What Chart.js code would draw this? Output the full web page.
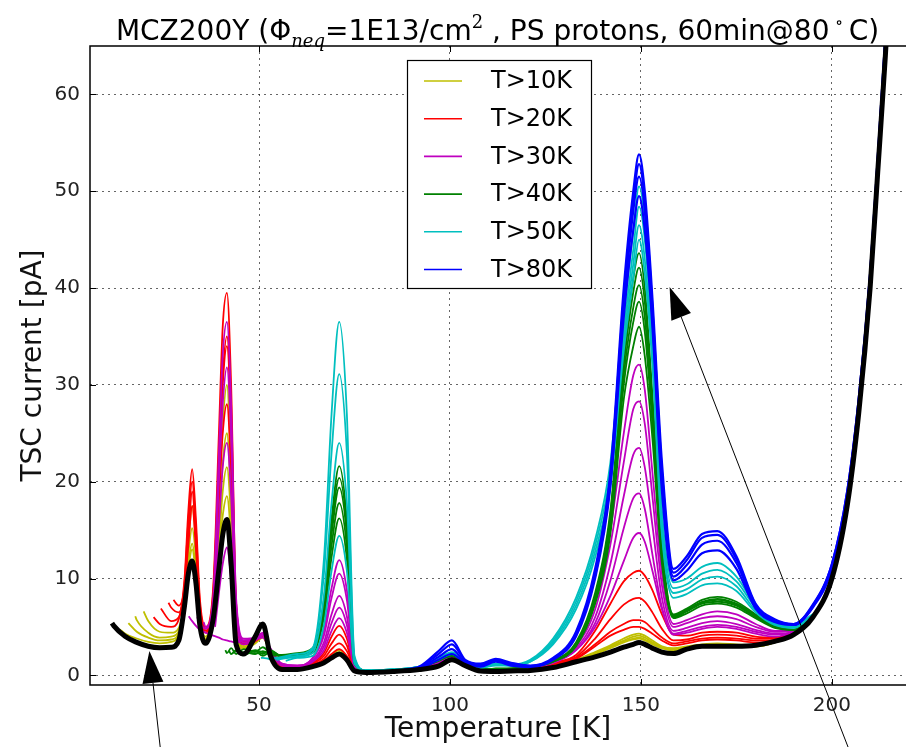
<!DOCTYPE html>
<html>
<head>
<meta charset="utf-8">
<script src="https://cdn.jsdelivr.net/npm/chart.js@4.4.1/dist/chart.umd.min.js"></script>
<style>
  body { margin: 0; background: white; overflow: hidden; }
  canvas { display: block; }
</style>
</head>
<body>
<canvas id="tscChart" width="906" height="747"></canvas>
<script>
  // temperature grid [K], every curve below is read on these points
  var TEMPS = [12, 15, 18, 21, 24, 27, 29, 30.5, 31.5, 32.5,
               33.5, 34.5, 36, 38, 39.5, 40.5, 41.6, 42.7, 44, 46,
               49, 51, 53, 56, 60, 64, 67, 69, 71, 73,
               75, 78, 85, 92, 97, 100.5, 104, 108, 112, 116,
               121, 127, 133, 138, 142, 145.5, 148, 149.5, 151, 153,
               155.5, 158.5, 162, 166, 170, 175, 180, 185, 190, 195,
               200, 204, 207, 210, 212, 214, 216];

  // each curve = its first point [T, I] + values on TEMPS starting at the first grid point above T
  var BLACK_START = [11.5, 5.4];
  var BLACK = [5.1, 4.0, 3.4, 3.0, 2.85, 2.9, 3.6, 7.2, 10.5, 11.8,
               9.5, 5.2, 3.3, 5.8, 11.0, 14.5, 16.1, 11.5, 3.2, 2.2,
               4.0, 5.3, 2.0, 0.6, 0.6, 0.9, 1.3, 1.8, 2.2, 1.6,
               0.45, 0.3, 0.4, 0.6, 0.95, 1.6, 1.0, 0.45, 0.4, 0.45,
               0.5, 0.8, 1.4, 1.9, 2.4, 2.9, 3.2, 3.4, 3.2, 2.8,
               2.4, 2.25, 2.7, 3.0, 3.0, 3.0, 3.1, 3.5, 4.2, 6.0,
               10, 17.5, 27, 40, 52, 64, 78];

  var YELLOW_STARTS = [[13.6, 4.75], [15.8, 5.4], [17.6, 6.1], [19.8, 6.6]];
  var YELLOW = [
    [4.3, 3.8, 3.45, 3.3, 3.45, 4.3, 8.0, 13.5, 17.5,
     13.5, 6.5, 4.0, 7.5, 18, 26, 30, 21, 5.0, 3.0,
     3.6, 4.2, 2.5, 1.0, 0.7, 1.0, 1.5, 2.1, 2.6, 1.9,
     0.6, 0.35, 0.45, 0.65, 1.1, 1.7, 1.1, 0.5, 0.5, 0.5,
     0.6, 0.95, 1.6, 2.4, 3.1, 3.8, 4.2, 4.3, 4.1, 3.6,
     3.0, 2.8, 3.0, 3.2, 3.3, 3.2, 3.1, 3.4, 4.3, 5.9],
    [4.5, 3.9, 3.6, 3.7, 4.4, 7.6, 12.5, 15.2,
     12.0, 6.0, 3.8, 7.0, 15.5, 22, 25, 18, 4.6, 2.9,
     3.5, 4.1, 2.4, 0.9, 0.65, 1.0, 1.5, 2.0, 2.4, 1.8,
     0.55, 0.35, 0.45, 0.6, 1.1, 1.65, 1.05, 0.5, 0.5, 0.5,
     0.6, 0.9, 1.5, 2.3, 3.0, 3.6, 4.0, 4.1, 3.9, 3.4,
     2.9, 2.7, 2.9, 3.1, 3.2, 3.1, 3.0, 3.4, 4.3, 5.9],
    [5.7, 4.4, 3.9, 4.0, 4.6, 7.4, 11.5, 13.6,
     10.8, 5.8, 3.7, 6.6, 13.5, 19, 21.5, 16, 4.4, 2.8,
     3.4, 4.0, 2.3, 0.9, 0.65, 0.95, 1.4, 1.9, 2.3, 1.7,
     0.55, 0.35, 0.45, 0.6, 1.05, 1.6, 1.0, 0.5, 0.5, 0.5,
     0.6, 0.9, 1.5, 2.2, 2.9, 3.5, 3.8, 3.9, 3.7, 3.3,
     2.8, 2.6, 2.9, 3.1, 3.2, 3.1, 3.0, 3.4, 4.3, 5.9],
    [5.6, 4.5, 4.4, 4.9, 7.5, 11.0, 13.0,
     10.2, 5.6, 3.6, 6.3, 12.5, 16.5, 18.5, 14, 4.2, 2.7,
     3.3, 3.9, 2.3, 0.9, 0.6, 0.95, 1.4, 1.8, 2.2, 1.6,
     0.5, 0.35, 0.45, 0.6, 1.05, 1.6, 1.0, 0.5, 0.5, 0.5,
     0.6, 0.9, 1.5, 2.2, 2.8, 3.4, 3.7, 3.8, 3.6, 3.2,
     2.8, 2.6, 2.9, 3.1, 3.2, 3.1, 3.0, 3.4, 4.3, 5.9]
  ];

  var RED_STARTS = [[22.4, 6.0], [24.3, 6.9], [26.3, 7.5], [27.6, 7.8]];
  var RED = [
    [5.3, 5.0, 5.8, 10.0, 17.0, 21.3,
     16.0, 8.0, 5.0, 9.0, 25, 36, 39.5, 30, 7.5, 3.5,
     3.8, 4.3, 2.6, 1.0, 0.8, 1.3, 2.3, 4.0, 5.1, 3.8,
     0.8, 0.35, 0.45, 0.7, 1.3, 1.8, 1.2, 0.5, 0.55, 0.6,
     0.8, 1.3, 2.1, 4.6, 7.4, 9.7, 10.6, 10.8, 10.3, 8.8,
     6.3, 4.2, 4.1, 4.4, 4.5, 4.4, 4.0, 3.9, 4.5, 5.9],
    [5.6, 6.0, 9.5, 16.0, 20.0,
     15.0, 7.5, 4.8, 8.5, 22, 31, 35, 27, 7.0, 3.4,
     3.7, 4.2, 2.5, 1.0, 0.8, 1.2, 2.0, 3.3, 4.2, 3.1,
     0.7, 0.35, 0.45, 0.7, 1.3, 1.8, 1.2, 0.5, 0.55, 0.6,
     0.75, 1.2, 1.9, 3.8, 5.8, 7.3, 7.9, 8.0, 7.6, 6.5,
     4.8, 3.6, 3.7, 4.1, 4.2, 4.1, 3.8, 3.8, 4.5, 5.9],
    [7.0, 6.5, 9.0, 14.5, 19.0,
     14.0, 7.0, 4.6, 8.0, 21, 30, 34, 26, 6.6, 3.3,
     3.6, 4.1, 2.4, 1.0, 0.7, 1.1, 1.7, 2.7, 3.3, 2.5,
     0.7, 0.35, 0.45, 0.65, 1.3, 1.7, 1.15, 0.5, 0.5, 0.55,
     0.7, 1.1, 1.8, 3.2, 4.5, 5.3, 5.7, 5.7, 5.5, 4.8,
     3.9, 3.3, 3.5, 3.8, 3.9, 3.8, 3.6, 3.6, 4.4, 5.9],
    [7.2, 9.0, 13.5, 17.5,
     13.0, 6.5, 4.4, 7.5, 18, 25, 28, 21, 6.0, 3.2,
     3.5, 4.0, 2.4, 0.9, 0.7, 1.0, 1.5, 2.2, 2.7, 2.0,
     0.6, 0.35, 0.45, 0.65, 1.2, 1.7, 1.1, 0.5, 0.5, 0.55,
     0.7, 1.1, 1.7, 3.0, 4.1, 4.7, 5.0, 5.0, 4.8, 4.3,
     3.6, 3.1, 3.3, 3.6, 3.7, 3.6, 3.4, 3.5, 4.4, 5.9]
  ];

  var MAGENTA_STARTS = [[31.6, 6.1], [33.8, 6.0], [35.5, 5.5], [37.0, 5.2], [38.5, 5.0]];
  var MAGENTA = [
    [5.6,
     5.1, 4.7, 4.4, 4.1, 3.9, 3.7, 3.6, 3.5, 3.4, 3.6,
     3.7, 3.9, 2.6, 1.2, 1.0, 1.4, 2.6, 4.6, 5.9, 4.4,
     0.9, 0.4, 0.45, 0.7, 1.3, 1.8, 1.2, 0.5, 0.55, 0.6,
     0.8, 1.3, 2.6, 5.0, 8.2, 11.8, 14.2, 14.7, 13.8, 10.8,
     6.8, 4.2, 4.4, 4.8, 5.0, 4.8, 4.3, 4.0, 4.5, 5.9],
    [5.4, 4.8, 8.0, 23, 33, 36.5, 28, 8.0, 3.8,
     3.9, 4.4, 2.8, 1.2, 1.0, 1.8, 4.6, 9.0, 11.9, 8.8,
     1.2, 0.4, 0.45, 0.7, 1.4, 1.9, 1.2, 0.5, 0.6, 0.65,
     0.9, 1.5, 3.2, 7.5, 15, 25, 31, 32.1, 29.5, 21,
     10.5, 5.3, 5.7, 6.3, 6.6, 6.3, 5.3, 4.6, 4.6, 5.9],
    [5.0, 7.5, 20, 28, 31.8, 24.5, 7.4, 3.6,
     3.8, 4.3, 2.7, 1.1, 1.0, 1.7, 4.1, 8.0, 10.5, 7.8,
     1.1, 0.4, 0.45, 0.7, 1.4, 1.9, 1.2, 0.5, 0.6, 0.65,
     0.85, 1.4, 3.0, 6.8, 13.5, 22, 27.5, 28.3, 26, 18.5,
     9.3, 5.0, 5.4, 5.9, 6.1, 5.8, 5.0, 4.5, 4.6, 5.9],
    [6.5, 15.5, 21.5, 24, 18.5, 6.2, 3.4,
     3.7, 4.2, 2.6, 1.1, 0.9, 1.5, 3.4, 6.3, 8.2, 6.1,
     1.0, 0.4, 0.45, 0.7, 1.3, 1.8, 1.2, 0.5, 0.55, 0.6,
     0.8, 1.3, 2.8, 6.0, 11.5, 18.5, 22.8, 23.5, 21.5, 15.5,
     8.0, 4.6, 4.9, 5.4, 5.6, 5.3, 4.7, 4.3, 4.5, 5.9],
    [8.5, 11.5, 13.2, 10.0, 4.5, 3.2,
     3.6, 4.1, 2.5, 1.0, 0.9, 1.4, 3.0, 5.4, 7.0, 5.2,
     0.9, 0.4, 0.45, 0.7, 1.3, 1.8, 1.2, 0.5, 0.55, 0.6,
     0.8, 1.3, 2.6, 5.4, 9.8, 15.2, 18.3, 18.8, 17.2, 12.5,
     7.0, 4.3, 4.6, 5.0, 5.2, 5.0, 4.5, 4.2, 4.5, 5.9]
  ];

  var GREEN_STARTS = [[41.2, 2.6], [42.2, 2.5], [43.2, 2.3], [44.6, 2.2], [45.6, 2.0]];
  var GREEN = [
    [2.3, 2.8, 2.2, 2.7,
     2.4, 2.9, 2.3, 2.1, 2.3, 2.8, 7.8, 16.2, 21.6, 16.0,
     1.5, 0.5, 0.5, 0.8, 1.6, 2.1, 1.3, 0.6, 0.7, 0.7,
     0.9, 1.5, 3.4, 8.5, 17, 33, 41, 43.6, 40, 29,
     13.5, 6.3, 6.9, 7.8, 8.1, 7.6, 6.3, 5.2, 4.7, 6.0],
    [2.2, 2.6, 2.3,
     2.6, 2.4, 2.5, 2.0, 2.2, 2.6, 7.4, 15.3, 20.4, 15.2,
     1.4, 0.5, 0.5, 0.8, 1.6, 2.1, 1.3, 0.6, 0.7, 0.7,
     0.9, 1.5, 3.3, 8.2, 16.5, 32, 39.6, 42.1, 38.6, 28,
     13.0, 6.2, 6.8, 7.6, 7.9, 7.4, 6.2, 5.1, 4.7, 6.0],
    [2.5, 2.1,
     2.5, 2.2, 2.6, 1.9, 2.1, 2.5, 7.0, 14.5, 19.4, 14.4,
     1.4, 0.5, 0.5, 0.8, 1.6, 2.0, 1.3, 0.6, 0.7, 0.7,
     0.9, 1.5, 3.2, 8.0, 16, 31, 38, 40.3, 37, 27,
     12.5, 6.1, 6.7, 7.5, 7.8, 7.3, 6.1, 5.0, 4.7, 6.0],
    [2.4,
     2.2, 2.5, 2.1, 2.0, 2.1, 2.4, 6.5, 13.4, 17.8, 13.2,
     1.3, 0.5, 0.5, 0.8, 1.5, 2.0, 1.2, 0.6, 0.65, 0.7,
     0.85, 1.4, 3.1, 7.7, 15.4, 30, 36.5, 38.6, 35.5, 26,
     12.2, 6.0, 6.6, 7.4, 7.6, 7.2, 6.0, 5.0, 4.7, 6.0],
    [2.2,
     2.5, 2.0, 2.4, 1.9, 2.0, 2.3, 6.0, 12.2, 16.2, 12.0,
     1.2, 0.5, 0.5, 0.8, 1.5, 2.0, 1.2, 0.6, 0.65, 0.7,
     0.85, 1.4, 3.0, 7.4, 14.6, 28.5, 34, 36.0, 33, 24.5,
     11.5, 5.9, 6.4, 7.2, 7.4, 7.0, 5.9, 4.9, 4.7, 6.0]
  ];

  var CYAN_STARTS = [[50.5, 1.8], [52.5, 1.7], [54.5, 1.6], [57.0, 1.5]];
  var CYAN = [
    [1.8, 1.7, 1.9, 2.2, 2.8, 12, 27, 36.5, 27,
     2.0, 0.5, 0.6, 0.9, 1.8, 2.4, 1.4, 0.9, 1.2, 1.1,
     1.6, 3.8, 8.0, 14, 22, 37, 46, 50.5, 47, 36,
     17, 9.6, 10.0, 11.2, 11.6, 10.2, 7.2, 5.5, 5.0, 6.3],
    [1.7, 1.8, 2.0, 2.6, 10.5, 23, 31.1, 23,
     1.8, 0.5, 0.6, 0.9, 1.7, 2.3, 1.3, 0.8, 1.1, 1.0,
     1.5, 3.6, 7.6, 13.4, 21, 35.5, 44, 48.4, 45, 34.5,
     16, 9.0, 9.4, 10.5, 10.9, 9.7, 7.0, 5.4, 5.0, 6.3],
    [1.7, 1.9, 2.3, 8.2, 17.8, 24.0, 17.8,
     1.5, 0.5, 0.6, 0.9, 1.7, 2.3, 1.3, 0.8, 1.1, 1.0,
     1.4, 3.4, 7.2, 12.8, 20, 34.5, 42.5, 46.5, 43, 33,
     15, 8.5, 8.9, 9.9, 10.2, 9.2, 6.7, 5.3, 4.9, 6.2],
    [1.8, 2.0, 5.2, 10.8, 14.4, 10.8,
     1.2, 0.5, 0.6, 0.9, 1.6, 2.2, 1.3, 0.8, 1.0, 1.0,
     1.4, 3.2, 6.8, 12.2, 19.5, 33.5, 41, 45.0, 41.5, 32,
     14.5, 8.0, 8.4, 9.3, 9.5, 8.7, 6.5, 5.2, 4.9, 6.2]
  ];

  var BLUE_STARTS = [[88, 0.6], [89, 0.5], [90, 0.5], [91, 0.5]];
  var BLUE = [
    [0.9, 2.5, 3.6, 1.6, 1.2, 1.7, 1.3,
     1.0, 1.8, 4.5, 11, 21, 40, 50, 53.8, 50, 39,
     22, 11.0, 12.3, 14.6, 14.9, 12.3, 7.4, 5.8, 5.3, 7.3,
     11.5, 19, 28.5, 41.5, 53.5, 66, 80],
    [0.8, 2.2, 3.2, 1.5, 1.1, 1.6, 1.2,
     0.95, 1.7, 4.3, 10.6, 20.5, 39, 49, 52.8, 49, 38,
     21, 10.6, 11.9, 14.2, 14.5, 12.0, 7.3, 5.7, 5.3, 7.2,
     11.5, 19, 28.5, 41.5, 53.5, 66, 80],
    [0.7, 1.9, 2.7, 1.3, 1.0, 1.5, 1.1,
     0.9, 1.7, 4.2, 10.3, 20, 38, 48, 51.5, 48, 37,
     20, 10.2, 11.4, 13.5, 13.9, 11.6, 7.1, 5.6, 5.2, 7.1,
     11.2, 18.7, 28.2, 41.2, 53.2, 65.5, 79.5],
    [0.6, 1.6, 2.2, 1.2, 0.9, 1.4, 1.0,
     0.85, 1.6, 4.0, 10, 19.5, 37, 46, 49.5, 46, 36,
     19, 9.8, 10.8, 12.6, 12.9, 11.0, 6.9, 5.5, 5.2, 7.0,
     11, 18.5, 28, 41, 53, 65, 79]
  ];

  var GROUP_LABELS = ["T>10K", "T>20K", "T>30K", "T>40K", "T>50K", "T>80K"];
  var GROUP_COLORS = ["#bfbf00", "#ff0000", "#bf00bf", "#008000", "#00bfbf", "#0000ff"];
  var X_TICKS = [50, 100, 150, 200];
  var Y_TICKS = [0, 10, 20, 30, 40, 50, 60];

  // annotation arrows, in data units: tip, and tail below the axis
  var ARROW_TIPS = [[21.3, 2.5], [157.5, 40.1]];
  var ARROW_TAILS = [[24.5, -8.7], [205.5, -8.7]];

  var FONT = "'DejaVu Sans', 'Bitstream Vera Sans', sans-serif";


  function curvePoints(start, vals)
  {
    var i0 = TEMPS.findIndex(function(t) { return t > start[0]; });
    var pts = [{x: start[0], y: start[1]}];
    for (var k = 0; k < vals.length; k++)
    {
      pts.push({x: TEMPS[i0 + k], y: vals[k]});
    }
    return pts;
  }

  var groups = [
    [YELLOW_STARTS, YELLOW],
    [RED_STARTS, RED],
    [MAGENTA_STARTS, MAGENTA],
    [GREEN_STARTS, GREEN],
    [CYAN_STARTS, CYAN],
    [BLUE_STARTS, BLUE]
  ];

  var datasets = [];
  groups.forEach(function(g, gi) {
    g[1].forEach(function(vals, ci) {
      datasets.push({
        label: GROUP_LABELS[gi],
        data: curvePoints(g[0][ci], vals),
        borderColor: GROUP_COLORS[gi],
        borderWidth: gi == 5 ? 2.2 : 1.8,
        order: 6 - gi
      });
    });
  });
  datasets.push({
    label: "all",
    data: curvePoints(BLACK_START, BLACK),
    borderColor: "#000",
    borderWidth: 5,
    order: 0
  });


  // frame, inner ticks, legend box, arrows and the title
  var overlayPlugin = {
    id: 'overlay',
    afterDatasetsDraw: function(chart)
    {
      var ctx = chart.ctx, area = chart.chartArea;
      var xs = chart.scales.x, ys = chart.scales.y;
      ctx.save();

      ctx.strokeStyle = "#000";
      ctx.lineWidth = 1.5;
      ctx.beginPath();
      ctx.moveTo(area.right + 2, area.top);
      ctx.lineTo(area.left, area.top);
      ctx.lineTo(area.left, area.bottom);
      ctx.lineTo(area.right + 2, area.bottom);
      ctx.stroke();

      ctx.lineWidth = 1;
      ctx.beginPath();
      Y_TICKS.forEach(function(v) {
        var py = Math.round(ys.getPixelForValue(v)) + 0.5;
        ctx.moveTo(area.left, py); ctx.lineTo(area.left + 6, py);
      });
      X_TICKS.forEach(function(v) {
        var px = Math.round(xs.getPixelForValue(v)) + 0.5;
        ctx.moveTo(px, area.bottom); ctx.lineTo(px, area.bottom - 6);
        ctx.moveTo(px, area.top); ctx.lineTo(px, area.top + 6);
      });
      ctx.stroke();

      // legend
      var lx = area.left + 317, ly = area.top + 14, lw = 184, lh = 228;
      ctx.fillStyle = "#fff";
      ctx.fillRect(lx, ly, lw, lh);
      ctx.strokeStyle = "#000";
      ctx.lineWidth = 1.2;
      ctx.strokeRect(lx + 0.5, ly + 0.5, lw, lh);
      ctx.font = "24px " + FONT;
      ctx.textBaseline = "middle";
      ctx.textAlign = "left";
      GROUP_LABELS.forEach(function(lab, i) {
        var ry = ly + 21 + i * 37.7;
        ctx.strokeStyle = GROUP_COLORS[i];
        ctx.lineWidth = 1.6;
        ctx.beginPath();
        ctx.moveTo(lx + 17, ry); ctx.lineTo(lx + 55, ry);
        ctx.stroke();
        ctx.fillStyle = "#000";
        ctx.fillText(lab, lx + 84, ry + 1);
      });

      // arrows
      ctx.strokeStyle = "#000";
      ctx.fillStyle = "#000";
      ARROW_TIPS.forEach(function(tip, i) {
        var tx = xs.getPixelForValue(tip[0]), ty = ys.getPixelForValue(tip[1]);
        var sx = xs.getPixelForValue(ARROW_TAILS[i][0]), sy = ys.getPixelForValue(ARROW_TAILS[i][1]);
        var dx = sx - tx, dy = sy - ty, len = Math.sqrt(dx * dx + dy * dy);
        var ux = dx / len, uy = dy / len;
        var bx = tx + ux * 32, by = ty + uy * 32;
        ctx.lineWidth = 1;
        ctx.beginPath();
        ctx.moveTo(sx, sy); ctx.lineTo(bx, by);
        ctx.stroke();
        ctx.beginPath();
        ctx.moveTo(tx, ty);
        ctx.lineTo(bx - uy * 10.5, by + ux * 10.5);
        ctx.lineTo(bx + uy * 10.5, by - ux * 10.5);
        ctx.closePath();
        ctx.fill();
      });
      ctx.restore();
    },
    afterDraw: function(chart)
    {
      var ctx = chart.ctx;
      var parts = [
        ["MCZ200Y (\u03A6", "28px " + FONT, 0],
        ["neq", "italic 18px 'DejaVu Serif', serif", 7],
        ["=1E13/cm", "28px " + FONT, 0],
        ["2", "18px 'DejaVu Serif', serif", -12],
        [" , PS protons, 60min@80", "28px " + FONT, 0],
        [" \u2218 ", "17px 'DejaVu Serif', serif", -12],
        ["C)", "28px " + FONT, 0]
      ];
      ctx.save();
      var total = 0;
      parts.forEach(function(p) { ctx.font = p[1]; total += ctx.measureText(p[0]).width; });
      var x = 497.5 - total / 2, base = 40;
      ctx.fillStyle = "#000";
      ctx.textBaseline = "alphabetic";
      ctx.textAlign = "left";
      parts.forEach(function(p) {
        ctx.font = p[1];
        ctx.fillText(p[0], x, base + p[2]);
        x += ctx.measureText(p[0]).width;
      });
      ctx.restore();
    }
  };


  var tscChart = new Chart(document.getElementById('tscChart'), {
    type: 'line',
    data: { datasets: datasets },
    options: {
      responsive: false,
      devicePixelRatio: 1,
      animation: false,
      events: [],
      elements: {
        point: { radius: 0 },
        line: { cubicInterpolationMode: 'monotone', fill: false }
      },
      layout: { padding: { top: 46, right: 0, left: 0, bottom: 0 } },
      scales: {
        x: {
          type: 'linear',
          min: 5.75,
          max: 219.4,
          afterBuildTicks: function(scale) { scale.ticks = X_TICKS.map(function(v) { return {value: v}; }); },
          afterFit: function(scale) { scale.height = 62; },
          grid: { color: "rgba(0,0,0,0.6)", lineWidth: 1, drawTicks: false },
          border: { display: false, dash: [2, 4] },
          ticks: { color: "#222", font: { family: FONT, size: 20 }, padding: 9, maxRotation: 0 },
          title: { display: true, text: "Temperature [K]", color: "#111",
                   font: { family: FONT, size: 28 }, padding: { top: 2, bottom: 0 } }
        },
        y: {
          min: -1,
          max: 65,
          afterBuildTicks: function(scale) { scale.ticks = Y_TICKS.map(function(v) { return {value: v}; }); },
          afterFit: function(scale) { scale.width = 90; },
          grid: { color: "rgba(0,0,0,0.6)", lineWidth: 1, drawTicks: false },
          border: { display: false, dash: [2, 4] },
          ticks: { color: "#222", font: { family: FONT, size: 20 }, padding: 10 },
          title: { display: true, text: "TSC current [pA]", color: "#111",
                   font: { family: FONT, size: 28 }, padding: { top: 17, bottom: 0 } }
        }
      },
      plugins: {
        legend: { display: false },
        tooltip: { enabled: false },
        title: { display: false }
      }
    },
    plugins: [overlayPlugin]
  });
</script>
</body>
</html>
